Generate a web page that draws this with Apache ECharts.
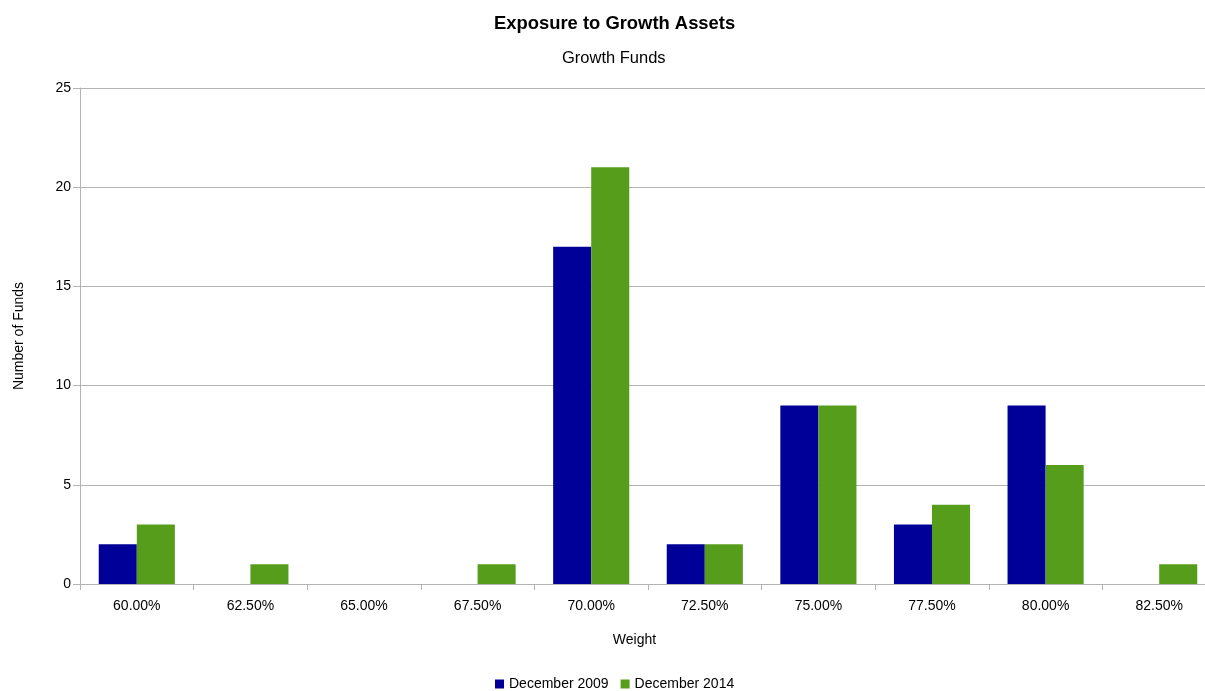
<!DOCTYPE html>
<html><head><meta charset="utf-8">
<script src="https://cdn.jsdelivr.net/npm/echarts@6/dist/echarts.min.js"></script>
<style>html,body{margin:0;padding:0;background:#fff;overflow:hidden;width:1205px;height:691px}#c{width:1229px;height:691px}</style>
</head><body><div id="c"></div>
<script>
const categories = ['60.00%','62.50%','65.00%','67.50%','70.00%','72.50%','75.00%','77.50%','80.00%','82.50%'];
const dec2009 = [2,0,0,0,17,2,9,3,9,0];
const dec2014 = [3,1,0,1,21,2,9,4,6,1];
const seriesNames = ['December 2009','December 2014'];
const font = 'Liberation Sans';
const chart = echarts.init(document.getElementById('c'));
chart.setOption({
  animation:false,
  textStyle:{fontFamily:font},
  title:[
    {text:'Exposure to Growth Assets',left:489,top:10,textStyle:{fontFamily:font,fontSize:18.4,fontWeight:'bold',color:'#000'}},
    {text:'Growth Funds',left:557,top:45,textStyle:{fontFamily:font,fontSize:16.5,fontWeight:'normal',color:'#000'}}
  ],
  legend:{top:672,left:490,itemWidth:9,itemHeight:9,itemGap:12,icon:'rect',
    textStyle:{fontFamily:font,fontSize:14,color:'#000'}},
  grid:{left:80,right:13,top:88,bottom:107,containLabel:false},
  xAxis:{type:'category',data:categories,name:'Weight',nameLocation:'middle',nameGap:49.5,
    nameTextStyle:{fontFamily:font,fontSize:14,color:'#000',padding:[0,27,0,0]},
    axisLine:{lineStyle:{color:'#b3b3b3'}},
    axisTick:{show:true,length:6,lineStyle:{color:'#b3b3b3'}},
    axisLabel:{fontFamily:font,fontSize:14,color:'#000',margin:15}},
  yAxis:{type:'value',min:0,max:25,interval:5,name:'Number of Funds',nameLocation:'middle',nameGap:54,
    nameTextStyle:{fontFamily:font,fontSize:14,color:'#000'},
    axisLine:{show:true,lineStyle:{color:'#b3b3b3'}},
    axisTick:{show:true,length:7,lineStyle:{color:'#b3b3b3'}},
    splitLine:{lineStyle:{color:'#b3b3b3'}},
    axisLabel:{fontFamily:font,fontSize:14,color:'#000',margin:9}},
  series:[
    {name:seriesNames[0],type:'bar',data:dec2009,itemStyle:{color:'#000099'},barGap:'0%',barCategoryGap:'33%'},
    {name:seriesNames[1],type:'bar',data:dec2014,itemStyle:{color:'#579d1c'},barGap:'0%',barCategoryGap:'33%'}
  ]
});
</script></body></html>
